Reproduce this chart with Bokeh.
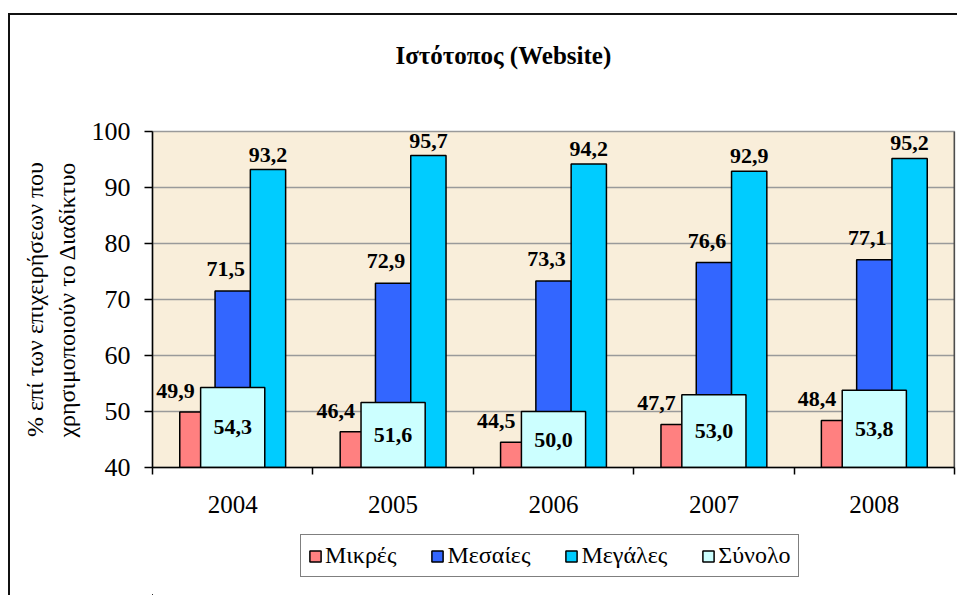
from bokeh.plotting import figure
from bokeh.layouts import column
from bokeh.models import (ColumnDataSource, Range1d, FixedTicker, Legend,
                          LegendItem, Span, Title)
from bokeh.core.properties import value
from bokeh.transform import dodge
from bokeh.embed import file_html
from bokeh.resources import INLINE

# ---------------- data ----------------
years = ["2004", "2005", "2006", "2007", "2008"]
mikres = [49.9, 46.4, 44.5, 47.7, 48.4]
mesaies = [71.5, 72.9, 73.3, 76.6, 77.1]
megales = [93.2, 95.7, 94.2, 92.9, 95.2]
synolo = [54.3, 51.6, 50.0, 53.0, 53.8]
series_names = ["Μικρές", "Μεσαίες", "Μεγάλες", "Σύνολο"]
title_text = "Ιστότοπος (Website)"
ylabel_lines = ["% επί των επιχειρήσεων που", "χρησιμοποιούν το Διαδίκτυο"]
y_ticks = [40, 50, 60, 70, 80, 90, 100]

# ---------------- styles ----------------
colors = ["#FF8080", "#3366FF", "#00CCFF", "#CCFFFF"]
FONT = value("Liberation Serif")
BG = "#F9EEDA"
BORDER = "2px solid #111"


def fmt(v):
    return f"{v:.1f}".replace(".", ",")


centers = [i + 0.5 for i in range(len(years))]
src = ColumnDataSource(dict(
    xc=centers,
    mikres=mikres, mesaies=mesaies, megales=megales, synolo=synolo,
    mid=[(y_ticks[0] + v) / 2 for v in synolo],
    t_mikres=[fmt(v) for v in mikres],
    t_mesaies=[fmt(v) for v in mesaies],
    t_megales=[fmt(v) for v in megales],
    t_synolo=[fmt(v) for v in synolo],
))
value_cols = ["mikres", "mesaies", "megales", "synolo"]

p = figure(frame_width=800, frame_height=334, output_backend="svg",
           toolbar_location=None, title=None,
           x_range=Range1d(0, len(years)), y_range=Range1d(y_ticks[0], y_ticks[-1]),
           min_border_left=142, min_border_right=5, min_border_top=116,
           min_border_bottom=62,
           styles={"border-left": BORDER, "border-top": BORDER})
p.margin = (13, 0, 0, 8)
p.background_fill_color = BG
p.border_fill_color = "white"
p.outline_line_color = "#9A9A9A"
p.outline_line_width = 1.5

# title: a spacer next to the frame, then the real title above it
p.add_layout(Title(text=" ", text_font_size="2px", standoff=58), "above")
p.add_layout(Title(text=title_text, align="left", offset=243, standoff=0,
                   vertical_align="middle", text_font="Liberation Serif",
                   text_font_style="bold", text_font_size="25px",
                   text_color="black"), "above")

# grid
p.xgrid.visible = False
p.ygrid.grid_line_color = "#9A9A9A"
p.ygrid.grid_line_width = 1.5

# y axis
p.yaxis.ticker = FixedTicker(ticks=y_ticks)
p.yaxis.axis_line_width = 1.5
p.yaxis.major_tick_line_width = 1.5
p.yaxis.major_tick_out = 8
p.yaxis.major_tick_in = 0
p.yaxis.minor_tick_line_color = None
p.yaxis.major_label_text_font = "Liberation Serif"
p.yaxis.major_label_text_font_size = "26px"
p.yaxis.major_label_text_color = "black"
p.yaxis.major_label_standoff = 14
p.yaxis.axis_label = "\n".join(ylabel_lines)
p.yaxis.axis_label_text_font = "Liberation Serif"
p.yaxis.axis_label_text_font_style = "normal"
p.yaxis.axis_label_text_font_size = "24px"
p.yaxis.axis_label_text_color = "black"
p.yaxis.axis_label_standoff = 9

# x axis
p.xaxis.ticker = FixedTicker(ticks=centers, minor_ticks=list(range(len(years) + 1)))
p.xaxis.major_label_overrides = {c: y for c, y in zip(centers, years)}
p.xaxis.axis_line_width = 1.5
p.xaxis.major_tick_line_color = None
p.xaxis.minor_tick_out = 7
p.xaxis.minor_tick_in = 0
p.xaxis.minor_tick_line_width = 1.5
p.xaxis.minor_tick_line_color = "black"
p.xaxis.major_label_text_font = "Liberation Serif"
p.xaxis.major_label_text_font_size = "25px"
p.xaxis.major_label_text_color = "black"
p.xaxis.major_label_standoff = 21

# right frame border
p.add_layout(Span(location=len(years), dimension="height", line_color="black",
                  line_width=1.5))

W = 0.22
off = 0.22
bar_style = dict(line_color="black", line_width=1.5)
r1 = p.vbar(x=dodge("xc", -off), top="mikres", bottom=y_ticks[0], width=W,
            source=src, fill_color=colors[0], **bar_style)
r2 = p.vbar(x=dodge("xc", 0.0), top="mesaies", bottom=y_ticks[0], width=W,
            source=src, fill_color=colors[1], **bar_style)
r3 = p.vbar(x=dodge("xc", off), top="megales", bottom=y_ticks[0], width=W,
            source=src, fill_color=colors[2], **bar_style)
r4 = p.vbar(x="xc", top="synolo", bottom=y_ticks[0], width=0.4, source=src,
            fill_color=colors[3], **bar_style)

lbl = dict(text_font=FONT, text_font_style="bold", text_font_size="22px",
           text_color="black", text_align="center", source=src)
p.text(x=dodge("xc", -off), y="mikres", text="t_mikres", x_offset=-22,
       y_offset=-21, text_baseline="alphabetic", **lbl)
p.text(x=dodge("xc", 0.0), y="mesaies", text="t_mesaies", x_offset=-7,
       y_offset=-22, text_baseline="alphabetic", **lbl)
p.text(x=dodge("xc", off), y="megales", text="t_megales", x_offset=0,
       y_offset=-15, text_baseline="alphabetic", **lbl)
p.text(x="xc", y="mid", text="t_synolo", text_baseline="middle", **lbl)

# ---------------- legend strip (second figure, same series styles) ----------------
p2 = figure(width=947, height=68, output_backend="svg",
            toolbar_location=None, title=None, x_range=Range1d(100, 101),
            y_range=Range1d(500, 501), x_axis_type=None, y_axis_type=None,
            min_border=0, min_border_left=0, min_border_right=0,
            min_border_top=0, min_border_bottom=0,
            styles={"border-left": BORDER})
p2.margin = (0, 0, 0, 8)
p2.outline_line_color = None
p2.background_fill_color = "white"
p2.border_fill_color = "white"
p2.grid.visible = False
# same series (they lie far outside this strip's ranges, so only the legend keys show)
lr = [p2.vbar(x="xc", top=col, bottom=y_ticks[0], width=0.1, source=src,
              fill_color=c, **bar_style) for col, c in zip(value_cols, colors)]

legend = Legend(items=[LegendItem(label=n, renderers=[r]) for n, r in
                       zip(series_names, lr)],
                orientation="horizontal", location=(148, 18))
legend.label_text_font = "Liberation Serif"
legend.label_text_font_size = "24px"
legend.label_text_color = "black"
legend.glyph_width = 14
legend.glyph_height = 14
legend.label_standoff = 3
legend.spacing = 34
legend.padding = 7
legend.margin = 0
legend.border_line_color = "black"
legend.border_line_width = 1.5
legend.background_fill_color = "white"
legend.background_fill_alpha = 1
p2.add_layout(legend)

layout = column(p, p2, spacing=0)
open("out.html", "w").write(file_html(layout, INLINE))
